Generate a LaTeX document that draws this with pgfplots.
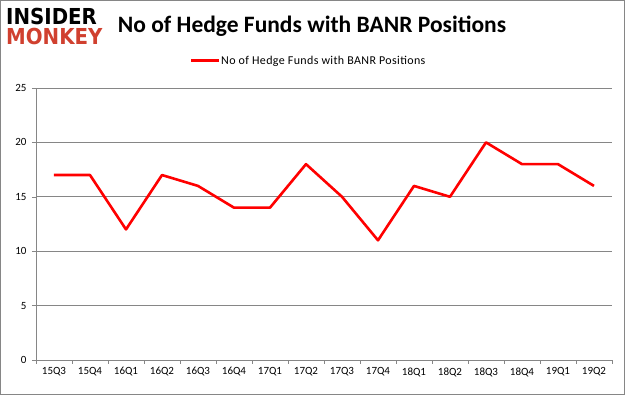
\documentclass[border=0pt]{standalone}
\usepackage{pgfplots}
\pgfplotsset{compat=1.18}
\usepackage{fontspec}
\setmainfont{Carlito}
\newfontfamily\logofont{DejaVu Sans}
\definecolor{gridgray}{RGB}{134,134,134}
\definecolor{linered}{RGB}{255,0,0}
\definecolor{monkeyred}{RGB}{208,64,47}
\begin{document}
\begin{tikzpicture}
\draw[color=gridgray,line width=1pt] (0.5pt,0.5pt) rectangle (624.5pt,394.5pt);
\node[anchor=north west,inner sep=0,align=left,font=\logofont\bfseries\fontsize{20}{18.5}\selectfont,xscale=0.99,yscale=1.1] at (6pt,387pt) {INSIDER\\\textcolor{monkeyred}{MONKEY}};
\node[anchor=base,inner sep=0,font=\bfseries\fontsize{23.5}{24}\selectfont] at (312pt,362.5pt) {No of Hedge Funds with BANR Positions};
\draw[linered,line width=3pt] (191pt,334pt) -- (219pt,334pt);
\node[anchor=west,inner sep=0,font=\fontsize{12}{12}\selectfont\addfontfeature{LetterSpace=3}] at (221pt,334pt) {No of Hedge Funds with BANR Positions};
\begin{axis}[
  at={(36pt,35pt)}, anchor=south west,
  width=576pt, height=272pt, scale only axis,
  xmin=0, xmax=16, ymin=0, ymax=25,
  axis x line*=bottom, axis y line*=left,
  axis line style={gridgray},
  xtick={0,...,16}, xticklabels={},
  extra x ticks={0.5,1.5,...,15.5},
  extra x tick labels={15Q3,15Q4,16Q1,16Q2,16Q3,16Q4,17Q1,17Q2,17Q3,17Q4,18Q1,18Q2,18Q3,18Q4,19Q1,19Q2},
  extra x tick style={major tick length=0pt, grid=none},
  ytick={0,5,...,25},
  ymajorgrids, grid style={gridgray,line width=0.6pt},
  tick style={gridgray}, major tick length=4pt,
  tick align=outside,
  xtick pos=bottom, ytick pos=left,
  tick label style={font=\fontsize{11}{12}\selectfont},
  /pgf/number format/assume math mode=true,
  xticklabel style={yshift=-4pt},
  yticklabel style={xshift=-2pt},
  clip=false,
]
\addplot[linered, line width=2.6pt, line join=round] coordinates {
(0.5,17) (1.5,17) (2.5,12) (3.5,17) (4.5,16) (5.5,14) (6.5,14) (7.5,18)
(8.5,15) (9.5,11) (10.5,16) (11.5,15) (12.5,20) (13.5,18) (14.5,18) (15.5,16)};
\end{axis}
\end{tikzpicture}
\end{document}
